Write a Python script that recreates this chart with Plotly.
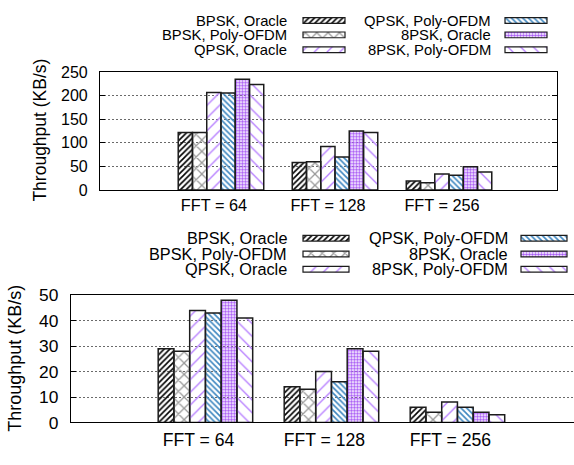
import plotly.graph_objects as go

W, H = 574, 465

groups = ["FFT = 64", "FFT = 128", "FFT = 256"]
series = ["BPSK, Oracle", "BPSK, Poly-OFDM", "QPSK, Oracle",
          "QPSK, Poly-OFDM", "8PSK, Oracle", "8PSK, Poly-OFDM"]

# Throughput (KB/s), upper panel
up_bpsk_oracle = [122, 58, 19]
up_bpsk_poly = [122, 60, 15]
up_qpsk_oracle = [207, 92, 34]
up_qpsk_poly = [206, 70, 31]
up_8psk_oracle = [235, 125, 49]
up_8psk_poly = [224, 122, 38]

# Throughput (KB/s), lower panel
lo_bpsk_oracle = [29, 14, 6]
lo_bpsk_poly = [28, 13, 4]
lo_qpsk_oracle = [44, 20, 8]
lo_qpsk_poly = [43, 16, 6]
lo_8psk_oracle = [48, 29, 4]
lo_8psk_poly = [41, 28, 3]

upper = [up_bpsk_oracle, up_bpsk_poly, up_qpsk_oracle,
         up_qpsk_poly, up_8psk_oracle, up_8psk_poly]
lower = [lo_bpsk_oracle, lo_bpsk_poly, lo_qpsk_oracle,
         lo_qpsk_poly, lo_8psk_oracle, lo_8psk_poly]

# fill pattern per series: (shape, colour, period, solidity)
patterns = [
    ("/", "#000000", 4, 0.4),
    ("x", "#9a9a9a", 8, 0.3),
    ("/", "#b57cff", 9, 0.15),
    ("\\", "#3d86c0", 4, 0.4),
    (".", "#a95cf5", 3, 0.55),
    ("\\", "#b57cff", 9, 0.15),
]
edge = "#1c1c1c"
FONT = "Liberation Sans, Arial, sans-serif"


def font(size):
    return dict(family=FONT, size=size, color="black")


fig = go.Figure()

xpos = list(range(len(groups)))


def add_panel(data, xa, ya):
    for name, vals, (shape, col, size, sol) in zip(series, data, patterns):
        fig.add_trace(go.Bar(
            x=xpos, y=vals, name=name, xaxis=xa, yaxis=ya, showlegend=False,
            marker=dict(color="white", line=dict(color=edge, width=1.5),
                        pattern=dict(shape=shape, fgcolor=col, size=size,
                                     solidity=sol, fillmode="replace")),
        ))


add_panel(upper, "x", "y")
add_panel(lower, "x2", "y2")

# key layout (pixel units on an overlay axis spanning the page)
key_rows_up = [11, 26, 41.5]
key_rows_lo = [238.5, 255, 271]
key_cols_up = [(289, 303, 345), (493, 505, 547)]   # text right, swatch x0, x1
key_cols_lo = [(289, 303, 349), (510, 521, 567)]
key_fonts = [font(14.8), font(16.3)]

annotations = []
for i, (name, (shape, col, size, sol)) in enumerate(zip(series, patterns)):
    c, r = divmod(i, 3)
    ys, bases, lens = [], [], []
    for rows, cols, kf in ((key_rows_up, key_cols_up, key_fonts[0]),
                           (key_rows_lo, key_cols_lo, key_fonts[1])):
        tr, s0, s1 = cols[c]
        ys.append(rows[r])
        bases.append(s0)
        lens.append(s1 - s0)
        annotations.append(dict(
            text=name, x=tr / W, y=1 - rows[r] / H, xref="paper", yref="paper",
            xanchor="right", yanchor="middle", showarrow=False, font=kf))
    fig.add_trace(go.Bar(
        orientation="h", y=ys, x=lens, base=bases, width=6, offset=-3,
        xaxis="x3", yaxis="y3", showlegend=False, hoverinfo="skip",
        marker=dict(color="white", line=dict(color=edge, width=1.2),
                    pattern=dict(shape=shape, fgcolor=col, size=size,
                                 solidity=sol, fillmode="replace")),
    ))

# y-axis titles
for xc, yc, fs in ((40, 126, 17.5), (15, 364.5, 18)):
    annotations.append(dict(
        text="Throughput (KB/s)", x=xc / W, y=1 - yc / H, xref="paper", yref="paper",
        xanchor="center", yanchor="middle", textangle=-90, showarrow=False,
        font=font(fs)))

grid = dict(showgrid=True, gridcolor="#6a6a6a", griddash="2px,2px", gridwidth=1)
xcommon = dict(tickmode="array", tickvals=xpos, ticktext=groups, ticks="",
               showline=True, linecolor="black", linewidth=1.2, mirror=True,
               showgrid=False, zeroline=False, ticklabelshift=-7)
ycommon = dict(ticks="inside", ticklen=5, tickcolor="black", showline=True,
               linecolor="black", linewidth=1.2, zeroline=False,
               ticklabelstandoff=8, **grid)

fig.update_layout(
    width=W, height=H, margin=dict(l=0, r=0, t=0, b=0),
    paper_bgcolor="white", plot_bgcolor="rgba(0,0,0,0)",
    barmode="group", bargap=0.25, bargroupgap=0,
    font=font(16),
    xaxis=dict(domain=[100 / W, 557 / W], range=[-1.061, 2.947], anchor="y",
               ticklabelstandoff=0, tickfont=font(16.3), **xcommon),
    yaxis=dict(domain=[1 - 188 / H, 1 - 65 / H], range=[0, 250], dtick=50,
               anchor="x", mirror="ticks", tickfont=font(16), **ycommon),
    xaxis2=dict(domain=[71 / W, 1], range=[-1.067, 2.925], anchor="y2",
                ticklabelstandoff=1, tickfont=font(17.6), **xcommon),
    yaxis2=dict(domain=[1 - 431 / H, 1 - 298 / H], range=[0, 50], dtick=10,
                anchor="x2", mirror=False, tickfont=font(17.4), **ycommon),
    xaxis3=dict(domain=[0, 1], range=[0, W], visible=False, fixedrange=True),
    yaxis3=dict(domain=[0, 1], range=[H, 0], visible=False, fixedrange=True),
    annotations=annotations,
)

fig.write_html("out.html")
